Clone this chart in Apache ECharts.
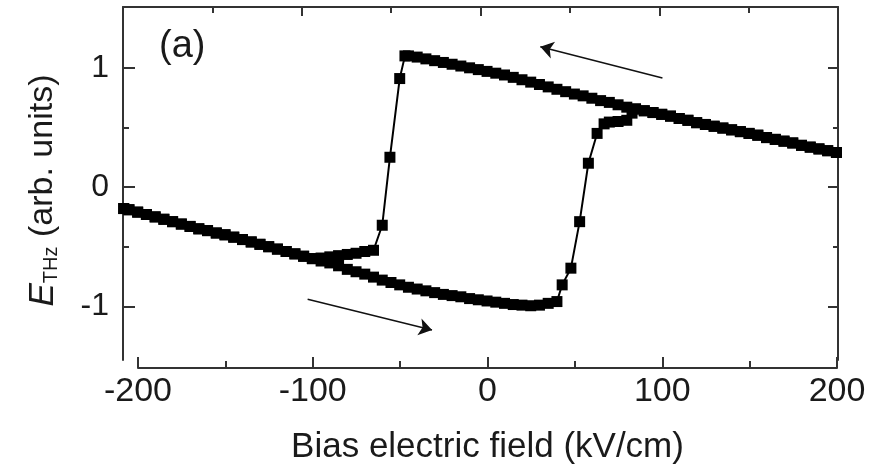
<!DOCTYPE html>
<html>
<head>
<meta charset="utf-8">
<script src="https://cdn.jsdelivr.net/npm/echarts@6/dist/echarts.min.js"></script>
<style>
html, body { margin: 0; padding: 0; background: #fff; }
#main { width: 886px; height: 471px; }
</style>
</head>
<body>
<div id="main"></div>
<script>
var myChart = echarts.init(document.getElementById('main'));

// sweep -200 -> +200 (lower branch, switching near +50)
var fieldUp = [-208, -205, -200, -195, -190, -185, -180, -175, -170, -165, -160, -155, -150, -145, -140, -135, -130, -125, -120, -115, -110, -105, -100, -95, -90, -85, -80, -75, -70, -65, -60, -55, -50, -45, -40, -35, -30, -25, -20, -15, -10, -5, 0, 5, 10, 15, 20, 25, 30, 35, 40, 43, 48, 53, 58, 63, 67, 70, 75, 80, 83, 85, 90, 95, 100, 105, 110, 115, 120, 125, 130, 135, 140, 145, 150, 155, 160, 165, 170, 175, 180, 185, 190, 195, 200];
var ethzUp = [-0.18, -0.19, -0.21, -0.23, -0.25, -0.27, -0.29, -0.31, -0.33, -0.35, -0.365, -0.385, -0.40, -0.42, -0.44, -0.46, -0.48, -0.50, -0.52, -0.54, -0.56, -0.58, -0.60, -0.62, -0.636, -0.66, -0.69, -0.71, -0.73, -0.755, -0.78, -0.80, -0.82, -0.84, -0.855, -0.87, -0.885, -0.90, -0.91, -0.92, -0.935, -0.945, -0.955, -0.965, -0.975, -0.985, -0.99, -0.995, -0.99, -0.975, -0.96, -0.82, -0.68, -0.29, 0.20, 0.45, 0.53, 0.545, 0.55, 0.56, 0.62, 0.655, 0.64, 0.625, 0.61, 0.595, 0.575, 0.56, 0.54, 0.525, 0.51, 0.495, 0.48, 0.465, 0.45, 0.435, 0.415, 0.40, 0.385, 0.37, 0.35, 0.335, 0.32, 0.305, 0.29];

// sweep +200 -> -200 (upper branch, switching near -50)
var fieldDown = [200, 195, 190, 185, 180, 175, 170, 165, 160, 155, 150, 145, 140, 135, 130, 125, 120, 115, 110, 105, 100, 95, 90, 85, 80, 75, 70, 65, 60, 55, 50, 45, 40, 35, 30, 25, 20, 15, 10, 5, 0, -5, -10, -15, -20, -25, -30, -35, -40, -45, -47, -50, -55.6, -60, -65, -70, -75, -80, -85, -90, -95, -100, -105, -110, -115, -120, -125, -130, -135, -140, -145, -150, -155, -160, -165, -170, -175, -180, -185, -190, -195, -200, -205, -208];
var ethzDown = [0.29, 0.305, 0.32, 0.335, 0.35, 0.37, 0.385, 0.40, 0.415, 0.435, 0.45, 0.465, 0.48, 0.495, 0.51, 0.525, 0.54, 0.56, 0.575, 0.595, 0.61, 0.625, 0.64, 0.655, 0.67, 0.69, 0.71, 0.725, 0.745, 0.765, 0.78, 0.80, 0.82, 0.84, 0.86, 0.88, 0.90, 0.92, 0.94, 0.955, 0.97, 0.985, 1.00, 1.015, 1.03, 1.045, 1.06, 1.075, 1.09, 1.10, 1.10, 0.91, 0.25, -0.32, -0.53, -0.54, -0.555, -0.565, -0.575, -0.585, -0.595, -0.60, -0.58, -0.56, -0.54, -0.52, -0.50, -0.48, -0.46, -0.44, -0.42, -0.40, -0.385, -0.365, -0.35, -0.33, -0.31, -0.29, -0.27, -0.25, -0.23, -0.21, -0.19, -0.18];

// sweep direction arrows [from, to]
var arrowDown = [[100.4, 0.915], [30.5, 1.176]];
var arrowUp = [[-102.7, -0.94], [-31.5, -1.198]];

var yMajor = [-1, 0, 1];
var yMinor = [-0.5, 0.5];

function pairs(xs, ys) {
    var out = [];
    for (var i = 0; i < xs.length; i++) out.push([xs[i], ys[i]]);
    return out;
}

var ink = '#1a1a1a';
var frameLine = { color: '#333', width: 2 };
var yMin = -1.45, yMax = 1.51;

function yAx(pos, ticks, len, lineShow, labels) {
    return {
        type: 'value', gridIndex: 0, position: pos, min: yMin, max: yMax,
        axisLine: { show: lineShow, onZero: false, lineStyle: frameLine },
        axisTick: { show: true, inside: true, length: len, customValues: ticks, lineStyle: frameLine },
        axisLabel: labels ? {
            show: true, customValues: ticks, fontSize: 32, color: ink,
            fontFamily: 'Liberation Sans', margin: 14
        } : { show: false },
        splitLine: { show: false }
    };
}

var yMain = yAx('left', yMajor, 12, true, true);
yMain.name = '{i|E}{s|THz}{n| (arb. units)}';
yMain.nameLocation = 'middle';
yMain.nameGap = 62;
yMain.nameRotate = 90;
yMain.nameTextStyle = {
    color: ink, fontFamily: 'Liberation Sans',
    padding: [0, 14, 0, 0],
    rich: {
        i: { fontSize: 35, fontStyle: 'italic', lineHeight: 36, color: ink, fontFamily: 'Liberation Sans' },
        s: { fontSize: 20, lineHeight: 20, verticalAlign: 'bottom', color: ink, fontFamily: 'Liberation Sans' },
        n: { fontSize: 34, lineHeight: 36, color: ink, fontFamily: 'Liberation Sans' }
    }
};

var option = {
    backgroundColor: '#fff',
    animation: false,
    title: {
        text: '(a)', left: 159, top: 28, padding: 0,
        textStyle: { fontSize: 38, fontWeight: 'normal', color: ink, fontFamily: 'Liberation Sans' }
    },
    grid: [
        { left: 123, right: 48, top: 7, height: 353 },
        { left: 138, right: 49, top: 360, height: 8 }
    ],
    xAxis: [
        {
            // data axis, spans the box width
            type: 'value', gridIndex: 0, position: 'bottom', min: -208.4, max: 200.9,
            axisLine: { show: false, onZero: false }, axisTick: { show: false },
            axisLabel: { show: false }, splitLine: { show: false }
        },
        {
            // top frame
            type: 'value', gridIndex: 0, position: 'top', min: 0, max: 8, interval: 2,
            axisLine: { show: true, onZero: false, lineStyle: frameLine },
            axisTick: { inside: true, length: 9, lineStyle: frameLine },
            minorTick: { show: true, splitNumber: 2, length: 6, lineStyle: frameLine },
            axisLabel: { show: false }, splitLine: { show: false }
        },
        {
            // bottom field axis
            type: 'value', gridIndex: 1, position: 'bottom', min: -200, max: 200, interval: 100,
            axisLine: { show: true, onZero: false, lineStyle: frameLine },
            axisTick: { inside: true, length: 11, lineStyle: frameLine },
            minorTick: { show: true, splitNumber: 2, length: 7, lineStyle: frameLine },
            axisLabel: { fontSize: 34, color: ink, fontFamily: 'Liberation Sans', margin: 7 },
            splitLine: { show: false },
            name: 'Bias electric field (kV/cm)', nameLocation: 'middle', nameGap: 62,
            nameTextStyle: { fontSize: 35, color: ink, fontFamily: 'Liberation Sans' }
        }
    ],
    yAxis: [
        yMain,
        yAx('left', yMinor, 6, false, false),
        yAx('right', yMajor, 10, true, false),
        yAx('right', yMinor, 5, false, false),
        { type: 'value', gridIndex: 1, show: false }
    ],
    series: [
        {
            type: 'line', xAxisIndex: 0, yAxisIndex: 0,
            data: pairs(fieldUp, ethzUp),
            symbol: 'rect', symbolSize: 11, showAllSymbol: true,
            itemStyle: { color: '#000' },
            lineStyle: { color: '#000', width: 2 }
        },
        {
            type: 'line', xAxisIndex: 0, yAxisIndex: 0,
            data: pairs(fieldDown, ethzDown),
            symbol: 'rect', symbolSize: 11, showAllSymbol: true,
            itemStyle: { color: '#000' },
            lineStyle: { color: '#000', width: 2 }
        },
        {
            type: 'lines', coordinateSystem: 'cartesian2d', xAxisIndex: 0, yAxisIndex: 0,
            symbol: ['none', 'arrow'], symbolSize: 13,
            lineStyle: { color: '#111', width: 1.5, curveness: 0, opacity: 1 },
            data: [{ coords: arrowDown }, { coords: arrowUp }]
        }
    ]
};
myChart.setOption(option);
</script>
</body>
</html>
